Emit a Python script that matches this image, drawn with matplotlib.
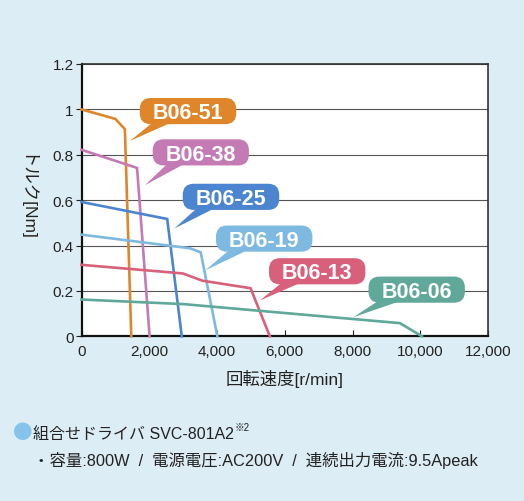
import matplotlib
matplotlib.use("Agg")
import matplotlib.pyplot as plt
from matplotlib.patches import BoxStyle

plt.rcParams['font.family'] = ['Liberation Sans', 'Noto Sans CJK JP', 'DejaVu Sans']

# ---- data ----
series_names = ["B06-51", "B06-38", "B06-25", "B06-19", "B06-13", "B06-06"]
speed_b0651 = [0, 1000, 1200, 1280, 1470]
torque_b0651 = [1.0, 0.958, 0.926, 0.913, 0.0]
speed_b0638 = [0, 1640, 2010]
torque_b0638 = [0.822, 0.742, 0.0]
speed_b0625 = [0, 2530, 2960]
torque_b0625 = [0.592, 0.517, 0.0]
speed_b0619 = [0, 3200, 3520, 4010]
torque_b0619 = [0.448, 0.388, 0.370, 0.0]
speed_b0613 = [0, 2990, 3570, 4990, 5560]
torque_b0613 = [0.315, 0.277, 0.245, 0.212, 0.0]
speed_b0606 = [0, 3000, 9400, 10050]
torque_b0606 = [0.162, 0.142, 0.058, 0.0]

x_ticks = [0, 2000, 4000, 6000, 8000, 10000, 12000]
x_tick_labels = ["0", "2,000", "4,000", "6,000", "8,000", "10,000", "12,000"]
y_ticks = [0, 0.2, 0.4, 0.6, 0.8, 1.0, 1.2]
y_tick_labels = ["0", "0.2", "0.4", "0.6", "0.8", "1", "1.2"]

x_label = "回転速度[r/min]"
y_label = "トルク[Nm]"
note_line1 = "組合せドライバ SVC-801A2"
note_sup = "※2"
note_line2 = "・容量:800W  /  電源電圧:AC200V  /  連続出力電流:9.5Apeak"

# callout placement (data coords): box centre and pointer tip
label_centres = [(3144, 0.985), (3522, 0.803), (4413, 0.607), (5393, 0.423), (6958, 0.279), (9895, 0.198)]
label_tips = [(1432, 0.861), (1874, 0.666), (2740, 0.475), (3646, 0.290), (5269, 0.158), (8024, 0.084)]

colors = ["#e0862a", "#c47ab4", "#4b85cf", "#7db9e0", "#d8607a", "#5fa89a"]

speeds = [speed_b0651, speed_b0638, speed_b0625, speed_b0619, speed_b0613, speed_b0606]
torques = [torque_b0651, torque_b0638, torque_b0625, torque_b0619, torque_b0613, torque_b0606]

bg = "#ddedf5"

fig = plt.figure(figsize=(5.24, 5.02), dpi=100)
fig.patch.set_facecolor(bg)
ax = fig.add_axes([81.5 / 524, 1 - 337.3 / 502, (488 - 81.5) / 524, (337.3 - 65) / 502])
ax.set_facecolor("white")

for sp, tq, c in zip(speeds, torques, colors):
    ax.plot(sp, tq, color=c, lw=1.9, solid_joinstyle="miter", zorder=3, clip_on=False)

ax.set_xlim(0, 12000)
ax.set_ylim(0, 1.2)
ax.set_xticks(x_ticks)
ax.set_xticklabels(x_tick_labels)
ax.set_yticks(y_ticks)
ax.set_yticklabels(y_tick_labels)
ax.yaxis.grid(True, color="#555555", lw=0.8)
ax.set_axisbelow(True)
ax.tick_params(axis="x", direction="in", length=4, width=0.8, pad=5.5, labelsize=11, colors="#222222")
ax.tick_params(axis="y", direction="out", length=4, width=0.8, pad=1.5, labelsize=11, colors="#222222")
for s in ["left", "bottom"]:
    ax.spines[s].set_linewidth(1.6)
    ax.spines[s].set_color("#111111")
for s in ["top", "right"]:
    ax.spines[s].set_linewidth(1.2)
    ax.spines[s].set_color("#333333")

ax.set_xlabel(x_label, fontsize=12.5, labelpad=8, color="#222222")
fig.text(25 / 524, 1 - 198 / 502, y_label, rotation=270, fontsize=12.5, ha="center", va="center", color="#222222")


def bubble_box(x0, y0, width, height, mutation_size):
    padx = 0.6 * mutation_size
    pad_bottom = 0.04 * mutation_size
    pad_top = 0.2 * mutation_size
    x0 = x0 - padx
    y0 = y0 - pad_bottom
    width = width + 2 * padx
    height = height + pad_bottom + pad_top
    r = 0.42 * height
    return BoxStyle.Round(pad=0, rounding_size=r / mutation_size)(x0, y0, width, height, mutation_size)


for name, c, (cx, cy), (tx, ty) in zip(series_names, colors, label_centres, label_tips):
    ax.annotate(name, xy=(tx, ty), xytext=(cx, cy), textcoords="data",
                ha="center", va="center", fontsize=15.5, fontweight="bold",
                color="white", zorder=5,
                bbox=dict(boxstyle=bubble_box, fc=c, ec="none"),
                arrowprops=dict(arrowstyle="wedge,tail_width=1.0", fc=c, ec="none",
                                mutation_scale=9, relpos=(0.24, 0.32), shrinkA=0, shrinkB=0,
                                patchA=None))

# notes
fig.text(23 / 524, 1 - 434 / 502, "●", fontsize=14, color="#86c3ec", ha="center", va="center",
         family=["Noto Sans CJK JP"])
t1 = fig.text(33 / 524, 1 - 435 / 502, note_line1, fontsize=11.5, color="#222222", ha="left", va="center")
fig.canvas.draw()
bb = t1.get_window_extent(renderer=fig.canvas.get_renderer())
fig.text((bb.x1 + 1) / 524, 1 - 428 / 502, note_sup, fontsize=7, color="#222222", ha="left", va="center")
fig.text(33 / 524, 1 - 461 / 502, note_line2, fontsize=11.8, color="#222222", ha="left", va="center")

fig.savefig("out.png", dpi=100, facecolor=bg)
